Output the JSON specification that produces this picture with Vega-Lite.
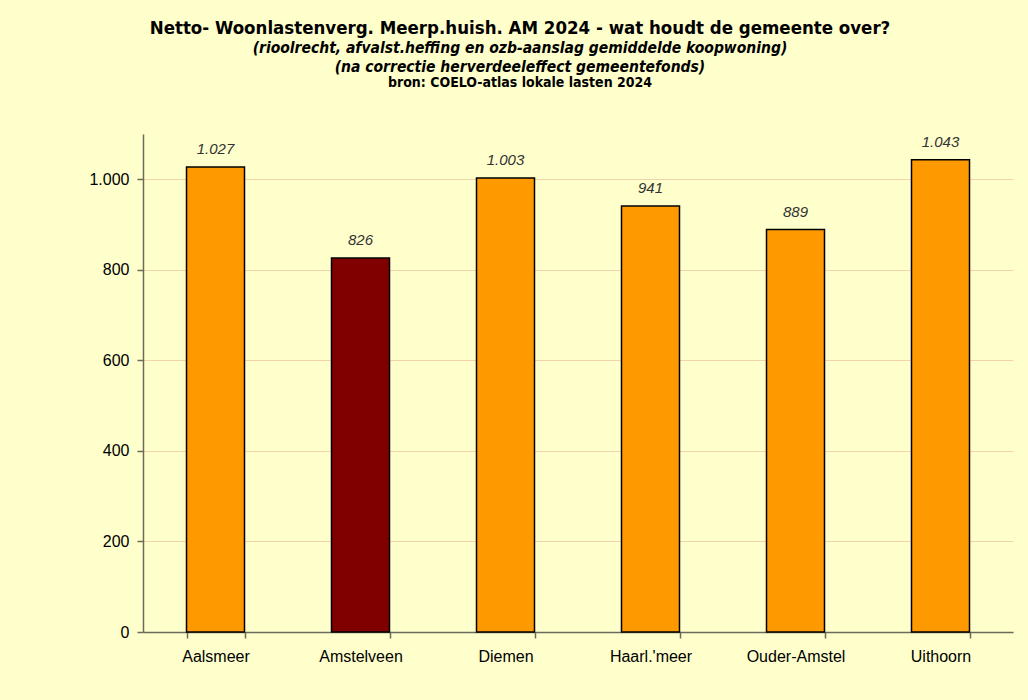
{
  "$schema": "https://vega.github.io/schema/vega-lite/v6.json",
  "background": "#FFFFCC",
  "autosize": {"type": "pad"},
  "padding": {"left": 88, "top": 19, "right": 15, "bottom": 36},
  "title": {
    "text": "Netto- Woonlastenverg. Meerp.huish. AM 2024 - wat houdt de gemeente over?",
    "subtitle": ["(rioolrecht, afvalst.heffing  en ozb-aanslag gemiddelde  koopwoning)", "(na correctie herverdeeleffect  gemeentefonds)"],
    "anchor": "middle",
    "dx": -31,
    "font": "DejaVu Sans Condensed, Liberation Sans",
    "fontSize": 18.5,
    "fontWeight": "bold",
    "color": "#000000",
    "subtitleFont": "DejaVu Sans Condensed, Liberation Sans",
    "subtitleFontSize": 15.5,
    "subtitleFontWeight": "bold",
    "subtitleFontStyle": "italic",
    "subtitleColor": "#000000",
    "subtitlePadding": 3,
    "subtitleLineHeight": 19,
    "offset": 1
  },
  "config": {
    "locale": {"number": {"decimal": ",", "thousands": ".", "grouping": [3], "currency": ["€", ""]}},
    "view": {"stroke": null},
    "font": "Liberation Sans"
  },
  "vconcat": [
    {
      "width": 870,
      "height": 498,
      "title": {
        "text": "bron: COELO-atlas lokale lasten 2024",
        "font": "DejaVu Sans Condensed, Liberation Sans",
        "fontSize": 14,
        "fontWeight": "bold",
        "color": "#000000",
        "anchor": "middle",
        "dx": -58,
        "offset": 44
      },
      "data": {
        "values": [
          {"gemeente": "Aalsmeer", "waarde": 1027, "groep": "ander"},
          {"gemeente": "Amstelveen", "waarde": 826, "groep": "Amstelveen"},
          {"gemeente": "Diemen", "waarde": 1003, "groep": "ander"},
          {"gemeente": "Haarl.'meer", "waarde": 941, "groep": "ander"},
          {"gemeente": "Ouder-Amstel", "waarde": 889, "groep": "ander"},
          {"gemeente": "Uithoorn", "waarde": 1043, "groep": "ander"}
        ]
      },
      "encoding": {
        "x": {
          "field": "gemeente",
          "type": "nominal",
          "sort": null,
          "scale": {"paddingInner": 0.6, "paddingOuter": 0.3},
          "axis": {
            "title": null,
            "labelAngle": 0,
            "labelFontSize": 16,
            "labelColor": "#000000",
            "labelPadding": 10,
            "domainColor": "#6b6b5b",
            "domainWidth": 1.5,
            "tickColor": "#6b6b5b",
            "tickWidth": 1.5,
            "tickSize": 6,
            "tickBand": "extent",
            "grid": false
          }
        },
        "y": {
          "field": "waarde",
          "type": "quantitative",
          "scale": {"domain": [0, 1100], "nice": false},
          "axis": {
            "title": null,
            "values": [0, 200, 400, 600, 800, 1000],
            "format": ",d",
            "labelFontSize": 16,
            "labelColor": "#000000",
            "labelPadding": 8,
            "domainColor": "#6b6b5b",
            "domainWidth": 1.5,
            "tickColor": "#6b6b5b",
            "tickWidth": 1.5,
            "tickSize": 6,
            "gridColor": "#F2D3AE",
            "gridWidth": 1
          }
        }
      },
      "layer": [
        {
          "mark": {"type": "bar", "stroke": "#000000", "strokeWidth": 1.5},
          "encoding": {
            "color": {
              "field": "groep",
              "type": "nominal",
              "scale": {"domain": ["ander", "Amstelveen"], "range": ["#FF9900", "#800000"]},
              "legend": null
            }
          }
        },
        {
          "mark": {"type": "text", "baseline": "bottom", "dy": -10, "fontStyle": "italic", "fontSize": 15, "color": "#333333"},
          "encoding": {
            "text": {"field": "waarde", "type": "quantitative", "format": ",d"}
          }
        }
      ]
    }
  ]
}
